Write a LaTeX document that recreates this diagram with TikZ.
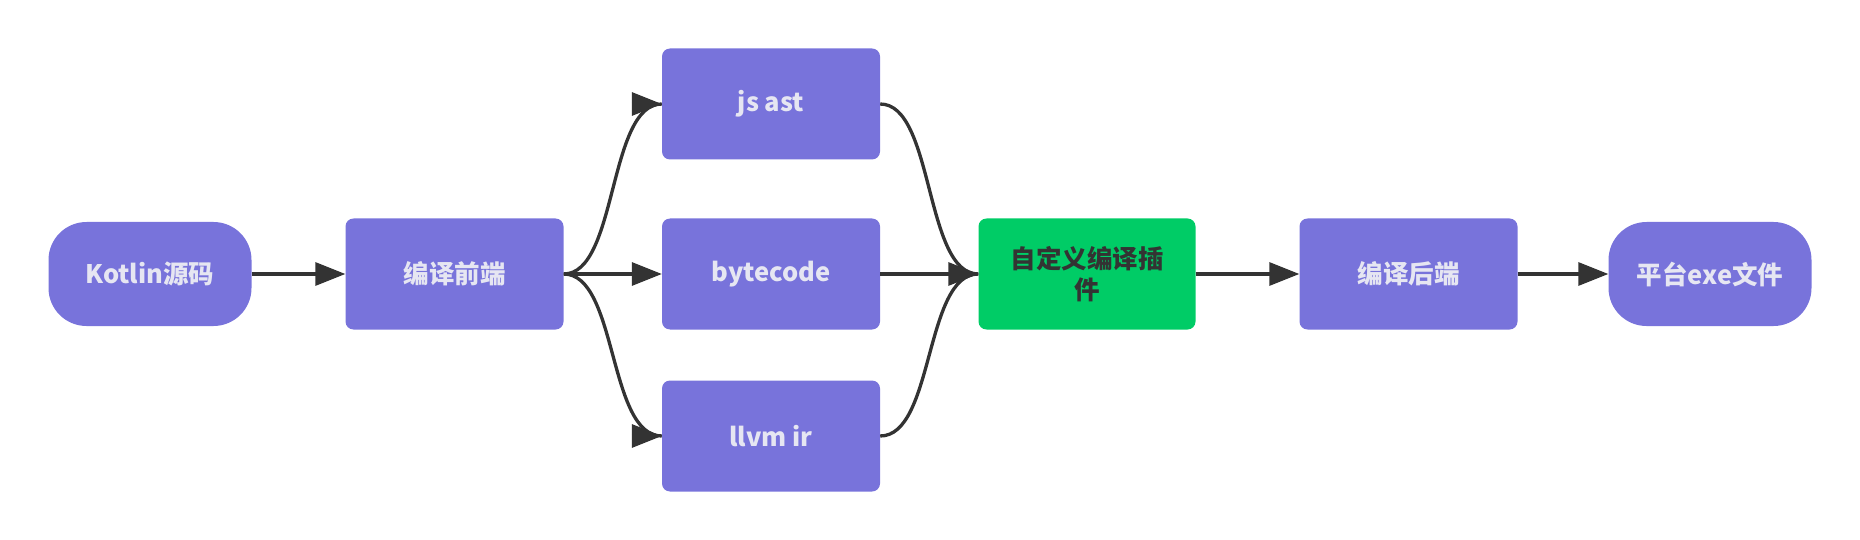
\documentclass[tikz,border=0pt]{standalone}
\usepackage{fontspec}
\setmainfont{Noto Sans CJK SC}
\usetikzlibrary{arrows.meta}
\definecolor{boxpurple}{HTML}{7873DB}
\definecolor{boxgreen}{HTML}{00CC66}
\definecolor{lighttext}{HTML}{E6E6F2}
\definecolor{darkline}{HTML}{333333}
\tikzset{
  base/.style={inner sep=0pt, align=center, font=\fontsize{25.5}{31.5}\selectfont\bfseries},
  pbox/.style={base, fill=boxpurple, text=lighttext, rounded corners=8pt, minimum width=218pt, minimum height=111pt},
  gbox/.style={base, fill=boxgreen, text=darkline, rounded corners=8pt, minimum width=217pt, minimum height=111pt},
  term/.style={base, fill=boxpurple, text=lighttext, rounded corners=38pt, minimum width=203pt, minimum height=104pt},
  conn/.style={draw=darkline, line width=3.3pt},
  arr/.style={conn, -{Triangle[length=30pt,width=23pt]}}
}
\begin{document}
\begin{tikzpicture}[x=1pt,y=-1pt]
\useasboundingbox (0,0) rectangle (1860,540);
\node[term] (kot) at (150,274) {Kotlin源码};
\node[pbox] (fe) at (454.5,274) {编译前端};
\node[pbox] (js) at (771,104) {js ast};
\node[pbox] (bc) at (771,274) {bytecode};
\node[pbox] (ll) at (771,436) {llvm ir};
\node[gbox] (plug) at (1087,274) {自定义编译插\\件};
\node[pbox] (be) at (1408.5,274) {编译后端};
\node[term] (out) at (1710,274) {平台exe文件};

\coordinate (jsin) at ([xshift=-30pt]js.west);
\coordinate (llin) at ([xshift=-30pt]ll.west);

\draw[arr] (kot.east) -- (fe.west);
\draw[conn] (fe.east) .. controls +(54,0) and +(-54,0) .. (js.west);
\draw[arr] (jsin) -- (js.west);
\draw[arr] (fe.east) -- (bc.west);
\draw[conn] (fe.east) .. controls +(54,0) and +(-54,0) .. (ll.west);
\draw[arr] (llin) -- (ll.west);
\draw[conn] (js.east) .. controls +(54,0) and +(-54,0) .. (plug.west);
\draw[conn] (ll.east) .. controls +(54,0) and +(-54,0) .. (plug.west);
\draw[arr] (bc.east) -- (plug.west);
\draw[arr] (plug.east) -- (be.west);
\draw[arr] (be.east) -- (out.west);
\end{tikzpicture}
\end{document}
